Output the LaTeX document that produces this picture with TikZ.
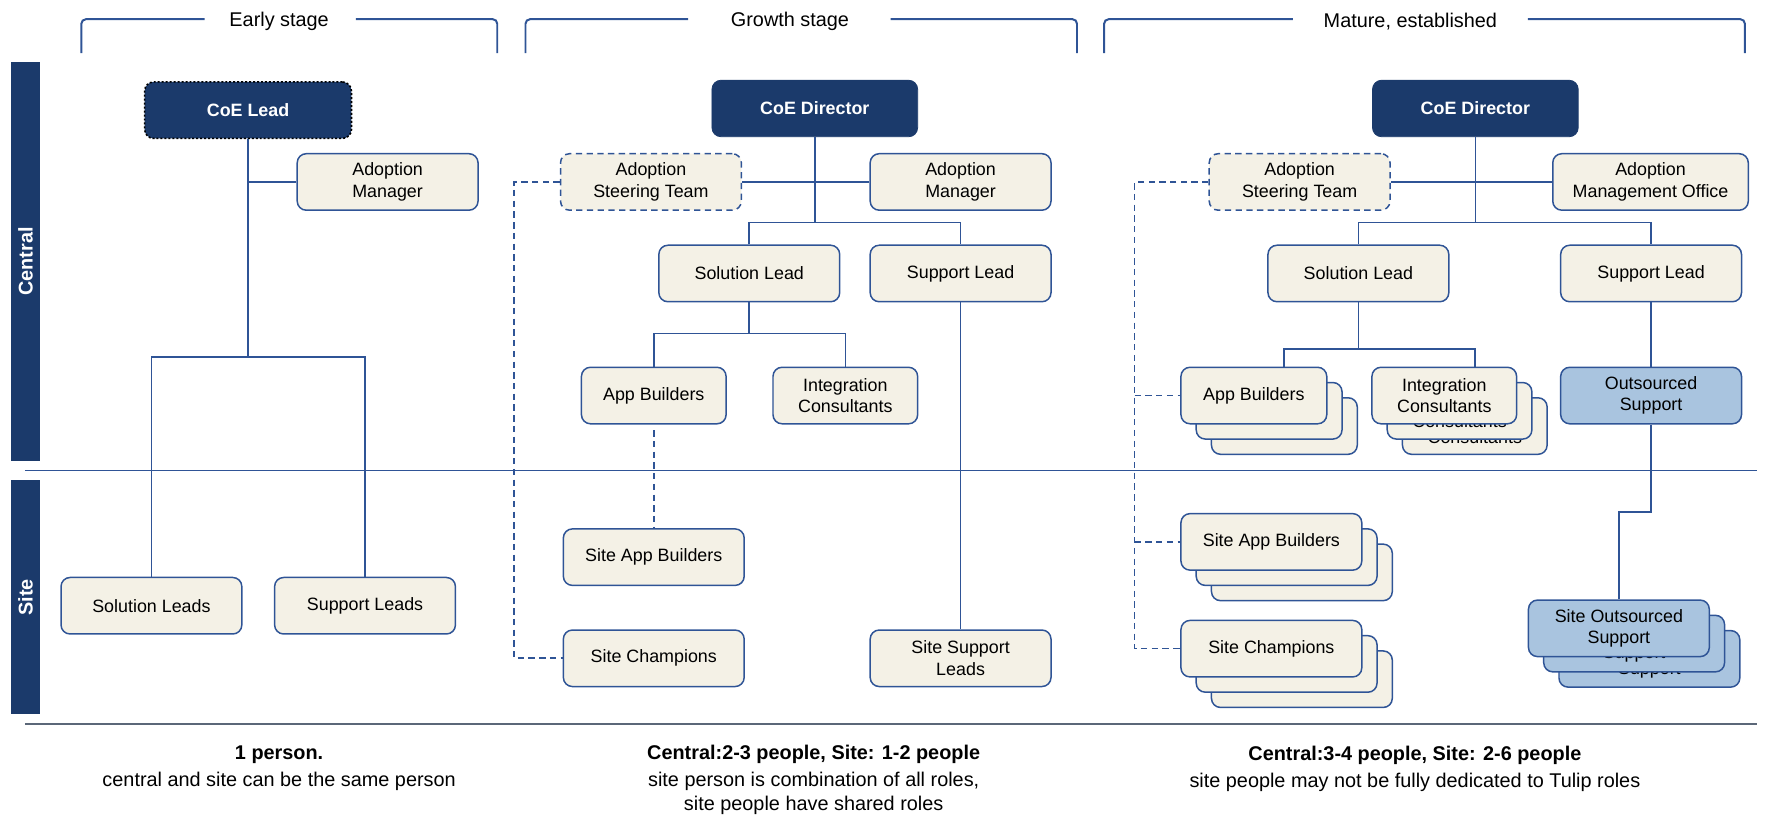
\documentclass[tikz,border=0pt]{standalone}
\usepackage{fontspec}
\setmainfont{Liberation Sans}
\usepackage{xcolor}
\usetikzlibrary{positioning}
\definecolor{Navy}{HTML}{1B3A6B}
\definecolor{Line}{HTML}{2F5496}
\definecolor{Cream}{HTML}{F4F1E6}
\definecolor{SkyF}{HTML}{A9C4DF}
\definecolor{Rule}{HTML}{5B6778}

\begin{document}
\begin{tikzpicture}[x=0.2mm,y=-0.2mm,
    font=\fontsize{9}{10.8}\selectfont,
    role/.style={draw=Line,fill=Cream,rounded corners=1.6mm,minimum width=32mm,
      minimum height=10mm,align=center,line width=0.75pt,inner sep=1pt},
    head/.style={draw=Navy,fill=Navy,rounded corners=1.6mm,minimum width=36.4mm,
      minimum height=10mm,text=white,font=\fontsize{9}{10.8}\selectfont\bfseries},
    ext/.style={role,fill=SkyF},
    opt/.style={role,dash pattern=on 3.2pt off 2.2pt},
    link/.style={draw=Line,line width=0.8pt},
    dlink/.style={link,dash pattern=on 3.2pt off 2.2pt},
    brk/.style={draw=Line,line width=1pt,rounded corners=0.8mm},
    lane/.style={fill=Navy,text=white,font=\fontsize{10}{12}\selectfont\bfseries,
      rotate=90,minimum height=5mm,inner sep=0pt},
    stage/.style={font=\fontsize{10}{12}\selectfont},
    note/.style={font=\fontsize{10}{12}\selectfont,align=center}]
  \useasboundingbox (0,0) rectangle (1568,727);

  % stage brackets
  \node[stage] (hEarly) at (247,19) {Early stage};
  \node[stage] (hGrow) at (699,19) {Growth stage};
  \node[stage] (hMat) at (1248,19) {Mature, established};
  \draw[brk] (72,47) |- (181,17);
  \draw[brk] (315,17) -| (440,47);
  \draw[brk] (465,47) |- (609,17);
  \draw[brk] (788,17) -| (953,47);
  \draw[brk] (977,47) |- (1144,17);
  \draw[brk] (1352,17) -| (1544,47);

  % lanes
  \node[lane,minimum width=70.6mm] (cBar) at (22.5,231.5) {Central};
  \node[lane,minimum width=41.4mm] (sBar) at (22.5,528.5) {Site};
  \draw[link] (22,416.5) -- (1555,416.5);
  \draw[Rule,line width=1pt] (22,641) -- (1555,641);

  % early stage
  \node[head,draw=black,line width=0.8pt,dash pattern=on 1pt off 1pt,
    minimum width=36.6mm] (eLead) at (219.5,97.5) {CoE Lead};
  \node[role] (eAM) at (343,161) {Adoption\\Manager};
  \node[role] (eSol) at (134,536) {Solution Leads};
  \node[role] (eSup) at (323,536) {Support Leads};
  \coordinate (eFork) at (219.5,316);
  \draw[link] (eLead) -- (eFork);
  \draw[link] (eAM.west) -- (eAM.west -| eLead.south);
  \draw[link] (eSol) |- (eFork) -| (eSup);

  % growth stage
  \node[head] (gDir) at (721,96) {CoE Director};
  \node[opt] (gAST) at (576,161) {Adoption\\Steering Team};
  \node[role] (gAM) at (850,161) {Adoption\\Manager};
  \node[role] (gSol) at (663,242) {Solution Lead};
  \node[role] (gSup) at (850,242) {Support Lead};
  \node[role,minimum width=25.6mm] (gApp) at (578.5,350) {App Builders};
  \node[role,minimum width=25.6mm] (gInt) at (748,350) {Integration\\Consultants};
  \node[role] (gSApp) at (578.5,493) {Site App Builders};
  \node[role] (gSCh) at (578.5,582.5) {Site Champions};
  \node[role] (gSSup) at (850,582.5) {Site Support\\Leads};
  \coordinate (gFork) at (721,197);
  \coordinate (gFork2) at (663,295);
  \coordinate (gRail) at (455,161);
  \draw[link] (gDir) -- (gFork);
  \draw[link] (gAST) -- (gAM);
  \draw[link] (gSol) |- (gFork) -| (gSup);
  \draw[link] (gSol) -- (gFork2);
  \draw[link] (gApp) |- (gFork2) -| (gInt);
  \draw[dlink] ([yshift=-1mm]gApp.south) -- (gSApp);
  \draw[link] (gSup) -- (gSSup);
  \draw[dlink] (gAST.west) -- (gRail) |- (gSCh.west);

  % mature stage
  \node[head] (mDir) at (1305.5,96) {CoE Director};
  \node[opt] (mAST) at (1150,161) {Adoption\\Steering Team};
  \node[role,minimum width=34.6mm] (mAMO) at (1460.5,161) {Adoption\\Management Office};
  \node[role] (mSol) at (1202,242) {Solution Lead};
  \node[role] (mSup) at (1461,242) {Support Lead};
  \foreach \k in {2,1}{
    \node[role,minimum width=25.8mm] (mApp\k) at (1109.5+13.5*\k,350+13.5*\k) {};
    \node[role,minimum width=25.6mm] (mInt\k) at (1278+13.5*\k,350+13.5*\k)
      {Integration\\Consultants};
    \node[role] (mSApp\k) at (1125+13.5*\k,479.5+13.5*\k) {};
    \node[role] (mSCh\k) at (1125+13.5*\k,574+13.5*\k) {};
    \node[ext] (mSOut\k) at (1432.5+13.5*\k,556+13.5*\k) {Site Outsourced\\Support};
  }
  \node[role,minimum width=25.8mm] (mApp) at (1109.5,350) {App Builders};
  \node[role,minimum width=25.6mm] (mInt) at (1278,350) {Integration\\Consultants};
  \node[ext] (mOut) at (1461,350) {Outsourced\\Support};
  \node[role] (mSApp) at (1125,479.5) {Site App Builders};
  \node[role] (mSCh) at (1125,574) {Site Champions};
  \node[ext] (mSOut) at (1432.5,556) {Site Outsourced\\Support};
  \coordinate (mFork) at (1305.5,197);
  \coordinate (mFork2) at (1202,309);
  \coordinate (mBend) at (1432.5,453);
  \coordinate (mRail) at (1004,161);
  \draw[link] (mDir) -- (mFork);
  \draw[link] (mAST) -- (mAMO);
  \draw[link] (mSol) |- (mFork) -| (mSup);
  \draw[link] (mSol) -- (mFork2);
  \draw[link] (mFork2) -| ([xshift=5.3mm]mApp.north);
  \draw[link] (mFork2) -| ([xshift=5.4mm]mInt.north);
  \draw[link] (mSup) -- (mOut);
  \draw[link] (mOut) |- (mBend) -- (mSOut);
  \draw[dlink] (mAST.west) -- (mRail) |- (mSCh.west);
  \draw[dlink] (mRail |- mApp) -- (mApp.west);
  \draw[dlink] (mRail |- mSApp) -- (mSApp.west);

  % notes
  \node[note] (n1) at (247,680) {\textbf{1 person.}\\[1.6pt]central and site can be the same person};
  \node[note] (n2) at (720,690) {\textbf{Central:2-3 people, Site: 1-2 people}\\[1.6pt]
    site person is combination of all roles,\\site people have shared roles};
  \node[note] (n3) at (1252,680) {\textbf{Central:3-4 people, Site: 2-6 people}\\[1.6pt]
    site people may not be fully dedicated to Tulip roles};
\end{tikzpicture}
\end{document}
